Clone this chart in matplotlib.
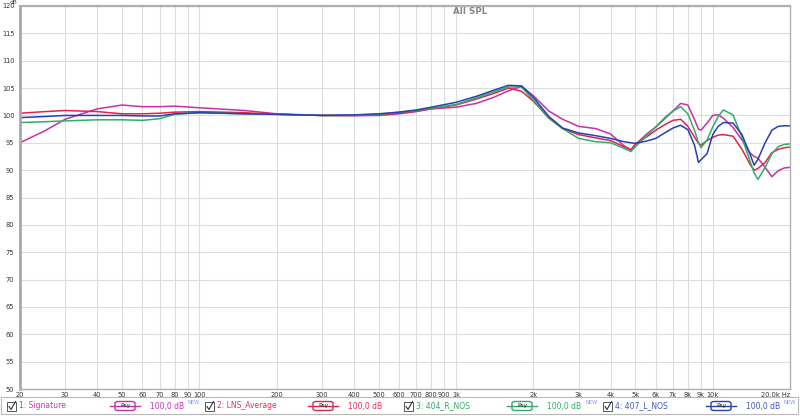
import matplotlib
matplotlib.use("Agg")
import matplotlib.pyplot as plt
from matplotlib.patches import Rectangle, FancyBboxPatch
from matplotlib.lines import Line2D

# ---------------- data ----------------
freq = [20, 25, 30, 40, 50, 60, 70, 80, 100, 150, 200, 300, 400, 500, 600, 700, 800,
        1000, 1200, 1400, 1600, 1800, 2000, 2300, 2600, 3000, 3500, 4000, 4500, 4800,
        5000, 5500, 6000, 6500, 7000, 7500, 8000, 8500, 8800, 9000, 9500, 10000, 10500,
        11000, 12000, 13000, 14000, 14500, 15000, 16000, 17000, 18000, 19000, 20000]

signature = [95.0, 97.2, 99.3, 101.2, 101.9, 101.6, 101.6, 101.7, 101.4, 100.9, 100.3,
             100.0, 99.95, 100.0, 100.3, 100.7, 101.2, 101.5, 102.2, 103.3, 104.5, 105.3,
             103.6, 100.8, 99.3, 98.0, 97.6, 96.6, 94.5, 93.7, 94.7, 96.5, 97.9, 99.4,
             100.8, 102.2, 101.9, 99.2, 97.5, 97.3, 98.6, 100.0, 100.1, 99.5, 97.8, 95.5,
             93.1, 92.5, 92.2, 90.5, 88.8, 89.9, 90.4, 90.5]

lns_average = [100.4, 100.7, 100.9, 100.7, 100.3, 100.3, 100.4, 100.6, 100.7, 100.5,
               100.2, 100.0, 100.0, 100.1, 100.4, 100.8, 101.2, 101.9, 103.0, 104.0,
               105.0, 104.4, 102.6, 99.5, 97.6, 96.5, 95.9, 95.4, 94.3, 93.7, 94.8, 96.0,
               97.3, 98.3, 99.1, 99.3, 98.0, 96.0, 94.9, 94.6, 95.4, 96.0, 96.4, 96.5,
               96.2, 93.8, 91.0, 90.0, 90.3, 91.4, 93.2, 93.8, 94.1, 94.2]

r404_nos = [98.7, 98.85, 99.0, 99.2, 99.2, 99.1, 99.4, 100.2, 100.5, 100.3, 100.2, 100.0,
            100.0, 100.2, 100.6, 100.9, 101.3, 102.0, 103.2, 104.3, 105.2, 105.2, 102.8,
            99.5, 97.6, 95.8, 95.2, 95.0, 94.0, 93.4, 94.3, 96.2, 97.9, 99.6, 100.8,
            101.6, 100.3, 97.2, 95.0, 94.1, 95.5, 97.9, 99.8, 101.0, 100.1, 96.0, 91.5,
            89.5, 88.3, 90.5, 93.0, 94.3, 94.7, 94.8]

l407_nos = [99.6, 99.8, 100.0, 100.0, 100.0, 99.9, 99.9, 100.3, 100.5, 100.3, 100.2,
            100.0, 100.1, 100.3, 100.6, 101.0, 101.5, 102.4, 103.5, 104.6, 105.5, 105.4,
            103.3, 99.8, 97.7, 96.8, 96.3, 95.8, 95.2, 95.0, 94.9, 95.3, 95.8, 96.8,
            97.7, 98.2, 97.4, 94.5, 91.4, 91.9, 93.0, 96.5, 98.0, 98.7, 98.6, 96.5, 92.8,
            90.9, 92.0, 95.0, 97.3, 98.0, 98.1, 98.1]

series_names = ["1: Signature", "2: LNS_Average", "3: 404_R_NOS", "4: 407_L_NOS"]
series_values = [signature, lns_average, r404_nos, l407_nos]
series_colors = ["#c92fa6", "#e0244f", "#2fae6a", "#2542b0"]
legend_text_colors = ["#cc33bb", "#e8305a", "#33aa66", "#4455bb"]
offsets = ["100,0 dB", "100,0 dB", "100,0 dB", "100,0 dB"]
new_flags = [True, False, True, True]

x_ticks = [20, 30, 40, 50, 60, 70, 80, 90, 100, 200, 300, 400, 500, 600, 700, 800, 900,
           1000, 2000, 3000, 4000, 5000, 6000, 7000, 8000, 9000, 10000, 20000]
x_labels = ["20", "30", "40", "50", "60", "70", "80", "90", "100", "200", "300", "400",
            "500", "600", "700", "800", "900", "1k", "2k", "3k", "4k", "5k", "6k", "7k",
            "8k", "9k", "10k", "20.0k Hz"]
y_ticks = [50, 55, 60, 65, 70, 75, 80, 85, 90, 95, 100, 105, 110, 115, 120]
title = "All SPL"

# ---------------- figure ----------------
W, H = 800, 416
fig = plt.figure(figsize=(8, 4.16), dpi=100)
fig.patch.set_facecolor("white")
ax = fig.add_axes([20 / W, 1 - 389 / H, 770 / W, 383 / H])
ax.set_xscale("log")
ax.set_xlim(20, 20000)
ax.set_ylim(50, 120)

ax.set_xticks(x_ticks)
ax.set_xticklabels(x_labels)
ax.xaxis.set_minor_locator(matplotlib.ticker.NullLocator())
ax.set_yticks(y_ticks)
ax.set_yticklabels([str(v) for v in y_ticks])
ax.tick_params(axis="both", length=0, labelsize=4.8, colors="#333333", pad=2)
ax.tick_params(axis="y", pad=4)
for lab in ax.get_xticklabels():
    lab.set_horizontalalignment("center")
ax.get_xticklabels()[-1].set_horizontalalignment("right")
ax.grid(True, color="#dcdcdc", lw=0.8)
ax.set_axisbelow(True)

for s in ["top", "right", "bottom"]:
    ax.spines[s].set_color("#b0b0b0")
    ax.spines[s].set_linewidth(1.0)
ax.spines["left"].set_color("#a8a8a8")
ax.spines["left"].set_linewidth(2.0)
ax.spines["top"].set_linewidth(1.6)

for vals, col in zip(series_values, series_colors):
    ax.plot(freq, vals, color=col, lw=1.1, solid_capstyle="round", solid_joinstyle="round")

fig.text(470 / W, 1 - 11 / H, title, ha="center", va="center", fontsize=6.3,
         color="#888888", fontweight="bold")
fig.text(13 / W, 1 - 2.5 / H, "dB", ha="center", va="center", fontsize=4.2, color="#444444")

# ---------------- legend strip ----------------
fig.add_artist(Rectangle((1 / W, 1 - 414 / H), 797 / W, 17 / H, transform=fig.transFigure,
                         facecolor="white", edgecolor="#b8b8b8", lw=0.8))

starts = [7, 205, 404, 603]
for i, x0 in enumerate(starts):
    yc = 1 - 406 / H
    # checkbox
    fig.add_artist(Rectangle((x0 / W, yc - 5 / H), 9 / W, 9 / H, transform=fig.transFigure,
                             facecolor="white", edgecolor="#555555", lw=0.7))
    fig.add_artist(Line2D([(x0 + 2) / W, (x0 + 4) / W, (x0 + 8.5) / W],
                          [yc - 0.5 / H, yc - 3.5 / H, yc + 4.5 / H],
                          transform=fig.transFigure, color="#333333", lw=0.8))
    fig.text((x0 + 12) / W, yc, series_names[i], ha="left", va="center", fontsize=5.5,
             color=legend_text_colors[i])
    # Psy button
    bx = x0 + 108
    fig.add_artist(Line2D([(bx - 5) / W, (bx + 25) / W], [yc, yc], transform=fig.transFigure,
                          color=series_colors[i], lw=1.0))
    fig.add_artist(FancyBboxPatch(((bx) / W, yc - 4.5 / H), 20 / W, 9 / H,
                                  boxstyle="round,pad=0,rounding_size=0.004",
                                  transform=fig.transFigure, facecolor="white",
                                  edgecolor=series_colors[i], lw=1.0))
    fig.text((bx + 10) / W, yc, "Psy", ha="center", va="center", fontsize=4.2, color="#222222")
    fig.text((x0 + 143) / W, yc, offsets[i], ha="left", va="center", fontsize=5.5,
             color=legend_text_colors[i])
    if new_flags[i]:
        fig.text((x0 + 181) / W, yc + 3 / H, "NEW", ha="left", va="center", fontsize=3.8,
                 color="#8899ee")

fig.savefig("out.png", dpi=100, facecolor="white")
